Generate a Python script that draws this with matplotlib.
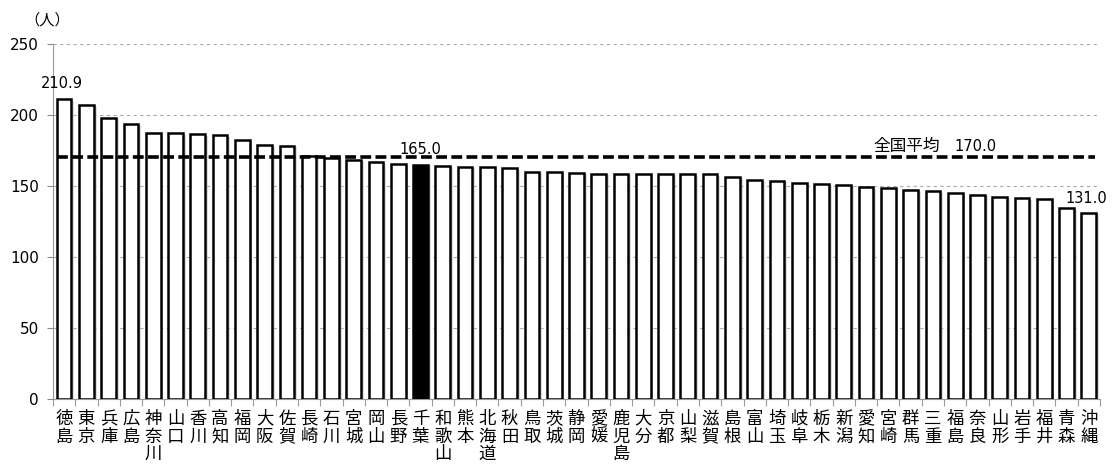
import matplotlib
matplotlib.use('Agg')
import matplotlib.pyplot as plt
import matplotlib.patheffects as pe
import numpy as np

plt.rcParams['font.family'] = ['DejaVu Sans', 'Noto Sans CJK JP']
JP = ['Noto Sans CJK JP', 'DejaVu Sans']

# Data
# ----
prefs = ['徳島', '東京', '兵庫', '広島', '神奈川', '山口', '香川', '高知', '福岡', '大阪',
         '佐賀', '長崎', '石川', '宮城', '岡山', '長野', '千葉', '和歌山', '熊本', '北海道',
         '秋田', '鳥取', '茨城', '静岡', '愛媛', '鹿児島', '大分', '京都', '山梨', '滋賀',
         '島根', '富山', '埼玉', '岐阜', '栃木', '新潟', '愛知', '宮崎', '群馬', '三重',
         '福島', '奈良', '山形', '岩手', '福井', '青森', '沖縄']
values = [210.9, 206.8, 198.1, 193.6, 187.5, 187.0, 186.3, 185.6, 182.6, 179.1,
          178.1, 170.7, 169.7, 168.5, 166.6, 165.2, 165.0, 164.1, 163.4, 163.3,
          162.4, 160.0, 159.9, 159.2, 158.4, 158.3, 158.3, 158.3, 158.2, 158.1,
          156.2, 154.1, 153.4, 151.9, 151.6, 150.8, 148.9, 148.7, 146.8, 146.1,
          144.9, 143.5, 142.1, 141.2, 140.5, 134.1, 131.0]
highlight = '千葉'
national_avg = 170.0
avg_label = '全国平均'
unit_label = '（人）'
yticks = [0, 50, 100, 150, 200, 250]

# Figure
# ------
fig = plt.figure(figsize=(11.15, 4.68), dpi=100)
ax = fig.add_axes([0.0475, 0.1485, 0.939, 0.7575])

x = np.arange(len(prefs))
colors = ['black' if p == highlight else 'white' for p in prefs]
bars = ax.bar(x, values, width=0.66, color=colors, edgecolor='black', linewidth=1.8, zorder=3)
for b in bars:
    b.set_path_effects([pe.SimplePatchShadow(offset=(2, -1), shadow_rgbFace='#bbbbbb', alpha=0.5),
                        pe.Normal()])

# national average (dashed)
ax.plot([x[0] - 0.3, x[-1] + 0.3], [national_avg, national_avg], color='black',
        lw=2.6, dashes=(3.0, 1.2), zorder=4)

# annotations
imax = int(np.argmax(values))
imin = int(np.argmin(values))
ihl = prefs.index(highlight)
ax.text(x[imax] - 0.1, values[imax] + 6, f'{values[imax]:.1f}', ha='center', va='bottom', fontsize=10.5)
ax.text(x[ihl], values[ihl] + 5, f'{values[ihl]:.1f}', ha='center', va='bottom', fontsize=10.5)
ax.text(x[imin] - 0.1, values[imin] + 5, f'{values[imin]:.1f}', ha='center', va='bottom', fontsize=10.5)
ax.text(39.3, national_avg + 2.0, avg_label, ha='right', va='bottom', fontsize=12, family=JP)
ax.text(39.95, national_avg + 2.5, f'{national_avg:.1f}', ha='left', va='bottom', fontsize=10.5)

# axes
ax.set_xlim(-0.5, len(prefs) - 0.5)
ax.set_ylim(0, 250)
ax.set_yticks(yticks)
ax.tick_params(axis='y', labelsize=11, length=4, color='#888888', pad=6)
ax.yaxis.grid(True, color='#aaaaaa', linestyle=(0, (3, 3)), linewidth=0.8, zorder=0)
for s in ['top', 'right']:
    ax.spines[s].set_visible(False)
ax.spines['left'].set_color('#999999')
ax.spines['bottom'].set_color('#999999')

# x ticks between categories, labels vertically stacked
ax.set_xticks(np.arange(len(prefs) + 1) - 0.5)
ax.set_xticklabels([])
ax.tick_params(axis='x', length=5, color='#999999', direction='out')
for xi, p in zip(x, prefs):
    ax.text(xi, -8, '\n'.join(p), ha='center', va='top', fontsize=12.5, linespacing=0.98,
            family=JP, clip_on=False)

fig.text(0.022, 0.958, unit_label, ha='left', va='center', fontsize=11, family=JP)

fig.savefig('out.png', dpi=100)
